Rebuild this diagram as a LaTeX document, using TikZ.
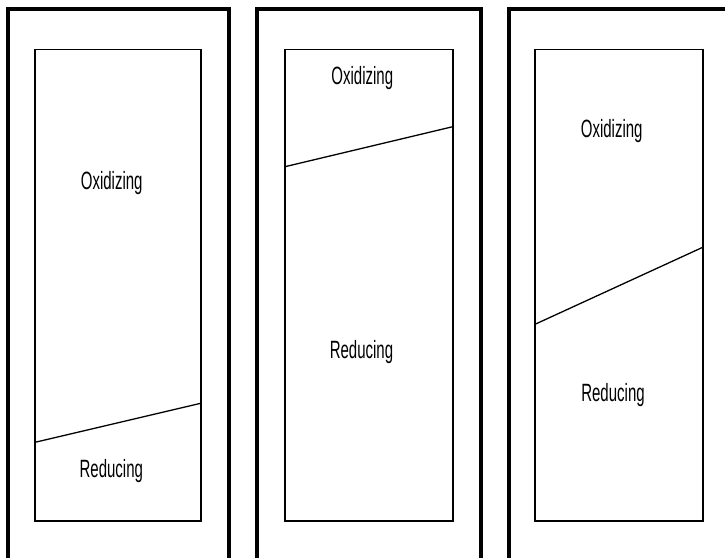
\documentclass[tikz,border=0pt]{standalone}
\usepackage{fontspec}
\setmainfont{Liberation Sans}
\tikzset{
  frame/.style={line width=4pt, line join=miter},
  cell/.style={line width=1.6pt},
  boundary/.style={line width=1.3pt},
  lbl/.style={anchor=base, inner sep=0pt, font=\fontsize{25}{25}\selectfont}
}
\newcommand{\narrowtxt}[1]{\scalebox{0.6}[1]{#1}}
\begin{document}
\begin{tikzpicture}[x=1pt,y=-1pt]
\useasboundingbox (0,0) rectangle (725,557);
\begin{scope}
\clip (0,0) rectangle (725,557);
% outer frames
\draw[frame] (8.2,565) -- (8.2,9) -- (229,9) -- (229,565);
\draw[frame] (257,565) -- (257,9) -- (480.5,9) -- (480.5,565);
\draw[frame] (509.3,565) -- (509.3,9) -- (735,9);
% inner cells
\draw[cell] (35,49.3) rectangle (200.7,520.7);
\draw[cell] (285,49.3) rectangle (452.7,520.7);
\draw[cell] (535,49.3) rectangle (702.7,520.7);
% boundaries
\coordinate (b1l) at (35,442.3);  \coordinate (b1r) at (200.7,403.3);
\coordinate (b2l) at (285,166.7); \coordinate (b2r) at (452.7,126.7);
\coordinate (b3l) at (535,324.3); \coordinate (b3r) at (702.7,247.3);
\draw[boundary] (b1l) -- (b1r);
\draw[boundary] (b2l) -- (b2r);
\draw[boundary] (b3l) -- (b3r);
\end{scope}
% labels
\node[lbl] (ox1) at (111.7,189.3) {\narrowtxt{Oxidizing}};
\node[lbl] (re1) at (111.3,477.3) {\narrowtxt{Reducing}};
\node[lbl] (ox2) at (362.3,84) {\narrowtxt{Oxidizing}};
\node[lbl] (re2) at (361.5,358.3) {\narrowtxt{Reducing}};
\node[lbl] (ox3) at (611.7,137.3) {\narrowtxt{Oxidizing}};
\node[lbl] (re3) at (613,401) {\narrowtxt{Reducing}};
\end{tikzpicture}
\end{document}
